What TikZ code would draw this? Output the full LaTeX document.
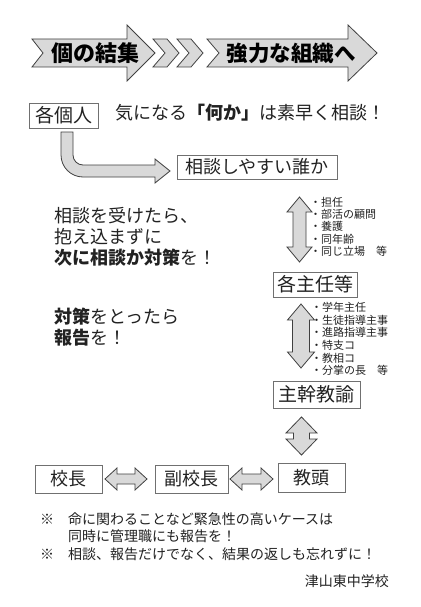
\documentclass[tikz,border=0pt]{standalone}
\usepackage{fontspec}
\setmainfont{Noto Sans CJK JP}
\newcommand\fs[1]{\fontsize{#1}{#1}\selectfont}
\definecolor{arrowgray}{HTML}{D9D9D9}
\definecolor{arrowline}{HTML}{404040}
\definecolor{boxline}{HTML}{707070}
\definecolor{txt}{HTML}{222222}
\newcommand\vdarr[6]{% cx, ytop, ybot, headhalf, shafthalf, headlen
  \draw[blk] (#1,#2) -- ({#1+#4},{#2+#6}) -- ({#1+#5},{#2+#6}) -- ({#1+#5},{#3-#6})
    -- ({#1+#4},{#3-#6}) -- (#1,#3) -- ({#1-#4},{#3-#6}) -- ({#1-#5},{#3-#6})
    -- ({#1-#5},{#2+#6}) -- ({#1-#4},{#2+#6}) -- cycle;}
\newcommand\hdarr[6]{% cy, xleft, xright, headhalf, shafthalf, headlen
  \draw[blk] (#2,#1) -- ({#2+#6},{#1-#4}) -- ({#2+#6},{#1-#5}) -- ({#3-#6},{#1-#5})
    -- ({#3-#6},{#1-#4}) -- (#3,#1) -- ({#3-#6},{#1+#4}) -- ({#3-#6},{#1+#5})
    -- ({#2+#6},{#1+#5}) -- ({#2+#6},{#1+#4}) -- cycle;}
\begin{document}
\begin{tikzpicture}[x=1pt,y=-1pt,
  blk/.style={fill=arrowgray, draw=arrowline, line width=0.8pt, line join=miter},
  box/.style={draw=boxline, line width=0.9pt, inner sep=0pt, text=txt},
  lbl/.style={inner sep=0pt, anchor=west, text=txt},
  item/.style={inner sep=0pt, anchor=west, text=txt, font=\fs{11}},
  ban/.style={inner sep=0pt, text=black, font=\bfseries\fs{22}}]
\useasboundingbox[fill=white] (0,0) rectangle (420,607);

% ---- banner ----
\draw[blk] (32,39) -- (127,39) -- (127,25) -- (155,53) -- (127,81) -- (127,67) -- (32,67) -- (43,53) -- cycle;
\draw[blk] (153,39) -- (167,39) -- (179,53) -- (167,67) -- (153,67) -- (165,53) -- cycle;
\draw[blk] (177,39) -- (191,39) -- (203,53) -- (191,67) -- (177,67) -- (189,53) -- cycle;
\draw[blk] (207,39) -- (348,39) -- (348,25) -- (377,53) -- (348,81) -- (348,67) -- (207,67) -- (219,53) -- cycle;
\node[ban] (b1) at (95,53) {個の結集};
\node[ban, font=\bfseries\fs{21.5}] (b2) at (291,53) {強力な組織へ};

% ---- top row ----
\node[box, minimum width=69, minimum height=25, font=\fs{19}] (kakko) at (63.5,115.5) {各個人};
\node[lbl, font=\fs{18}] (q) at (115,113) {気になる\textbf{「何か」}は素早く相談！};

% curved arrow
\draw[blk] (61,132) -- (61,155) arc[start angle=180, end angle=90, radius=22] -- (155,177) -- (155,183)
  -- (170,171) -- (155,159) -- (155,165) -- (83,165) arc[start angle=90, end angle=180, radius=10]
  -- (73,132) -- cycle;

\node[box, minimum width=160, minimum height=24, font=\fs{18}] (dare) at (257,167) {相談しやすい誰か};

% ---- left text ----
\node[lbl, font=\fs{18}] (t1) at (54,216) {相談を受けたら、};
\node[lbl, font=\fs{18}] (t2) at (54,237) {抱え込まずに};
\node[lbl, font=\fs{18}] (t3) at (54,258) {\textbf{次に相談か対策}を！};
\node[lbl, font=\fs{18}] (t4) at (54,317) {\textbf{対策}をとったら};
\node[lbl, font=\fs{18}] (t5) at (54,338) {\textbf{報告}を！};

% ---- right column ----
\vdarr{299.5}{197}{262}{12.5}{6.5}{15}
\node[item] (a1) at (310,202) {・担任};
\node[item] (a2) at (310,214.3) {・部活の顧問};
\node[item] (a3) at (310,226.6) {・養護};
\node[item] (a4) at (310,239) {・同年齢};
\node[item] (a5) at (310,251.3) {・同じ立場　等};

\node[box, minimum width=84, minimum height=25, font=\fs{19}] (shunin) at (315,284.5) {各主任等};

\vdarr{301}{304}{368}{13.5}{8.5}{16}
\node[item] (c1) at (311,307.5) {・学年主任};
\node[item] (c2) at (311,320.1) {・生徒指導主事};
\node[item] (c3) at (311,332.7) {・進路指導主事};
\node[item] (c4) at (311,345.3) {・特支コ};
\node[item] (c5) at (311,357.9) {・教相コ};
\node[item] (c6) at (311,370.5) {・分掌の長　等};

\node[box, minimum width=87, minimum height=27, font=\fs{19}] (shukan) at (316.5,394.5) {主幹教諭};

\vdarr{301.5}{417}{455}{15.5}{8}{16}

% ---- bottom row ----
\node[box, minimum width=67, minimum height=28, font=\fs{18}] (kocho) at (68.5,479) {校長};
\node[box, minimum width=73, minimum height=28, font=\fs{18}] (fuku) at (191.5,479) {副校長};
\node[box, minimum width=67, minimum height=29, font=\fs{18}] (kyoto) at (311.5,477.5) {教頭};
\hdarr{479}{105}{147}{11}{5}{12}
\hdarr{479}{230}{273}{11}{5}{12}

% ---- notes ----
\node[lbl, font=\fs{14}] (m1) at (40,519) {※};
\node[lbl, font=\fs{14}] (n1) at (68,519) {命に関わることなど緊急性の高いケースは};
\node[lbl, font=\fs{14}] (n2) at (68,536.5) {同時に管理職にも報告を！};
\node[lbl, font=\fs{14}] (m2) at (40,554) {※};
\node[lbl, font=\fs{14}] (n3) at (68,554) {相談、報告だけでなく、結果の返しも忘れずに！};
\node[inner sep=0pt, anchor=east, text=txt, font=\fs{14}] (sch) at (389,581) {津山東中学校};
\end{tikzpicture}
\end{document}
